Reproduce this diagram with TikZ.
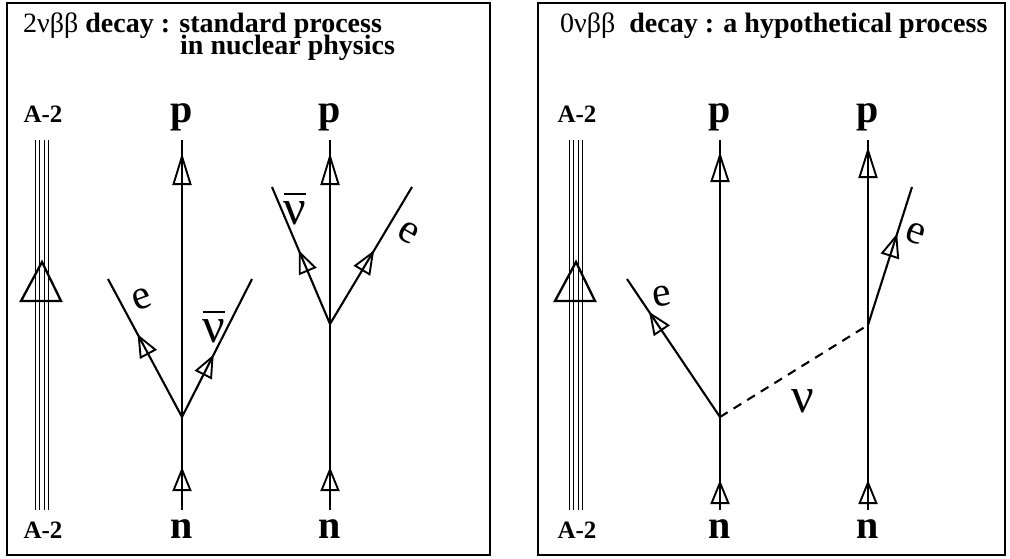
\documentclass[tikz,border=0pt]{standalone}
\usepackage{fontspec}
\setmainfont{Liberation Serif}
\usetikzlibrary{arrows.meta,decorations.markings}
\newcommand{\nubarlabel}{\vbox{\hrule height 1.7pt\kern 7pt\hbox{ν}}}
\tikzset{
  framebox/.style={line width=2.6pt},
  fl/.style={line width=2.1pt},
  thinl/.style={line width=0.9pt},
  tipat/.style 2 args={postaction={decorate,decoration={markings,
      mark=at position #1 with {\arrow[line width=1.9pt]{Triangle[open,length=#2,width=19pt]}}}}},
  title/.style={anchor=base west,inner sep=0pt,font=\fontsize{28}{28}\selectfont},
  alab/.style={anchor=base,inner sep=0pt,font=\fontsize{25}{25}\selectfont\bfseries},
  pn/.style={anchor=base,inner sep=0pt,font=\fontsize{40}{40}\selectfont\bfseries},
  elab/.style={inner sep=0pt,font=\fontsize{42}{42}\selectfont},
  nulab/.style={inner sep=0pt,font=\fontsize{50}{50}\selectfont},
  bigtri/.style={line width=2.3pt,line join=miter},
  dashl/.style={line width=2.1pt,dash pattern=on 9pt off 7pt}
}
\begin{document}
\begin{tikzpicture}[x=1pt,y=-1pt]
\useasboundingbox (0,0) rectangle (1010,558);
% frames
\draw[framebox] (7,3) rectangle (490,555);
\draw[framebox] (538,3) rectangle (1005,555);
% titles
\node[title,text depth=0pt] (t1) at (23,32) {2νββ \textbf{decay : standard process}};
\node[title,text height=14pt] (t1b) at (180,54) {\textbf{in nuclear physics}};
\node[title] (t2) at (560,32) {0νββ\ \ \textbf{decay : a hypothetical process}};
% spectator nucleus, left
\node[alab] (a1t) at (43,122) {A-2};
\node[alab] (a1b) at (43,538) {A-2};
\foreach \x in {35,39.5,44,48.5} \draw[thinl] (\x,140) -- (\x,510);
\draw[bigtri] (21,301) -- (42,262) -- (61,301) -- cycle;
% spectator nucleus, right
\node[alab] (a2t) at (577,122) {A-2};
\node[alab] (a2b) at (577,538) {A-2};
\foreach \x in {569,573.5,578,582.5} \draw[thinl] (\x,140) -- (\x,510);
\draw[bigtri] (555,301) -- (576,262) -- (595,301) -- cycle;
% diagram 1
\node[pn] (P1) at (182,122) {p};
\node[pn] (N1) at (182,538) {n};
\coordinate (n1) at (182,510);
\coordinate (v1) at (182,417);
\coordinate (p1) at (182,140);
\coordinate (e1) at (108,279);
\coordinate (nb1) at (252,279);
\draw[fl,tipat={43pt}{24pt}] (n1) -- (v1);
\draw[fl,tipat={264pt}{32pt}] (v1) -- (p1);
\draw[fl,tipat={94pt}{23pt}] (v1) -- (e1);
\draw[fl,tipat={70pt}{23pt}] (v1) -- (nb1);
\node[elab,rotate=20] (E1) at (142,299) {e};
\node[nulab] (NB1) at (214,327) {\nubarlabel};
% diagram 2
\node[pn] (P2) at (330,122) {p};
\node[pn] (N2) at (330,538) {n};
\coordinate (n2) at (330,510);
\coordinate (v2) at (330,324);
\coordinate (p2) at (330,140);
\coordinate (nb2) at (272,187);
\coordinate (e2) at (412,187);
\draw[fl,tipat={43pt}{24pt}] (n2) -- (v2);
\draw[fl,tipat={171pt}{32pt}] (v2) -- (p2);
\draw[fl,tipat={80pt}{23pt}] (v2) -- (nb2);
\draw[fl,tipat={86pt}{24pt}] (v2) -- (e2);
\node[nulab] (NB2) at (295,209) {\nubarlabel};
\node[elab,rotate=-30] (E2) at (408,233) {e};
% diagram 3
\node[pn] (P3) at (720,122) {p};
\node[pn] (N3) at (720,538) {n};
\coordinate (n3) at (720,510);
\coordinate (v3) at (720,417);
\coordinate (p3) at (720,140);
\coordinate (e3) at (627,279);
\draw[fl,tipat={30pt}{24pt}] (n3) -- (v3);
\draw[fl,tipat={265pt}{30pt}] (v3) -- (p3);
\draw[fl,tipat={127pt}{23pt}] (v3) -- (e3);
\node[elab,rotate=10] (E3) at (662,296) {e};
% diagram 4
\node[pn] (P4) at (868,122) {p};
\node[pn] (N4) at (868,538) {n};
\coordinate (n4) at (868,510);
\coordinate (v4) at (868,325);
\coordinate (p4) at (868,140);
\coordinate (e4) at (912,187);
\draw[fl,tipat={30pt}{24pt}] (n4) -- (v4);
\draw[fl,tipat={178pt}{31pt}] (v4) -- (p4);
\draw[fl,tipat={96pt}{24pt}] (v4) -- (e4);
\node[elab,rotate=-20] (E4) at (916,234) {e};
% virtual neutrino
\draw[dashl] (v3) -- (v4);
\node[nulab] (NU) at (803,401) {ν};
\end{tikzpicture}
\end{document}
